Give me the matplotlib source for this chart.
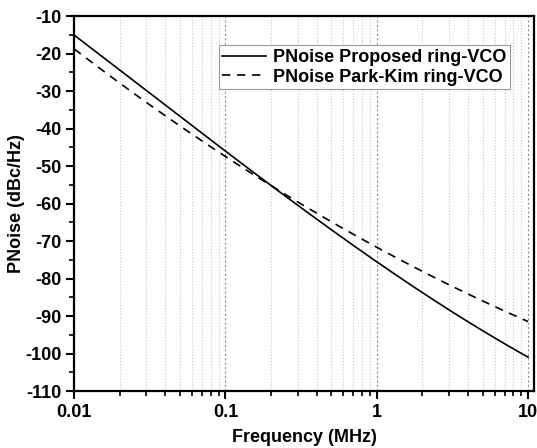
import numpy as np
import matplotlib
matplotlib.use("Agg")
import matplotlib.pyplot as plt
from matplotlib.ticker import LogLocator, FixedLocator, MultipleLocator, NullFormatter

plt.rcParams["font.family"] = ["Liberation Sans", "DejaVu Sans"]
plt.rcParams["font.weight"] = "bold"
plt.rcParams["axes.unicode_minus"] = False

# frequencies in MHz
freq = [0.01, 0.02, 0.05, 0.1, 0.2, 0.5, 1, 2, 5, 10]
pn_proposed = [-15.0, -24.4, -36.8, -46.1, -54.9, -67.0, -75.6, -83.5, -94.2, -100.8]
pn_parkkim = [-19.2, -27.1, -39.1, -47.8, -55.3, -65.4, -71.3, -77.5, -86.2, -91.5]

x_ticks = [0.01, 0.1, 1, 10]
x_ticklabels = ["0.01", "0.1", "1", "10"]
y_ticks = list(range(-110, -9, 10))

# smooth the curves (cubic in log-frequency) for drawing
lf = np.log10(freq)
xs = np.linspace(lf[0], lf[-1], 300)
c1 = np.polyfit(lf, pn_proposed, 3)
c2 = np.polyfit(lf, pn_parkkim, 3)

fig = plt.figure(figsize=(5.37, 4.48), dpi=100)
ax = fig.add_axes([0.138, 0.127, 0.856, 0.837])

ax.set_xscale("log")
ax.set_xlim(0.01, 10.9)
ax.set_ylim(-110, -10)

# vertical grid: light dotted minor, darker dashed major
ax.xaxis.set_minor_locator(LogLocator(base=10, subs=np.arange(2, 10)))
ax.xaxis.set_minor_formatter(NullFormatter())
ax.grid(True, which="minor", axis="x", color="#c8c8c8", linestyle=":", linewidth=0.8)
ax.grid(True, which="major", axis="x", color="#909090", linestyle=(0, (2, 2)), linewidth=0.8)

ax.plot(10 ** xs, np.polyval(c1, xs), color="black", linewidth=1.2, label="PNoise Proposed ring-VCO")
ax.plot(10 ** xs, np.polyval(c2, xs), color="black", linewidth=1.2, linestyle=(0, (5, 4)),
        label="PNoise Park-Kim ring-VCO")

ax.xaxis.set_major_locator(FixedLocator(x_ticks))
ax.set_xticklabels(x_ticklabels)
ax.set_yticks(y_ticks)
ax.yaxis.set_minor_locator(MultipleLocator(5))

ax.tick_params(which="major", direction="out", length=6, width=1.5, labelsize=13, pad=3)
ax.tick_params(which="minor", direction="out", length=3.5, width=1.2)
ax.tick_params(top=False, right=False)
for sp in ax.spines.values():
    sp.set_linewidth(1.6)

ax.set_xlabel("Frequency (MHz)", fontsize=13, fontweight="bold", labelpad=6)
ax.set_ylabel("PNoise (dBc/Hz)", fontsize=13, fontweight="bold", labelpad=0.5)

leg = ax.legend(loc="upper right", bbox_to_anchor=(0.948, 0.922), fontsize=13, fancybox=False,
                framealpha=1, edgecolor="#999999", handlelength=2.4, borderpad=0.2,
                labelspacing=0.15, handletextpad=0.4, borderaxespad=0)
leg.get_frame().set_linewidth(0.8)

fig.savefig("out.png", dpi=100)
